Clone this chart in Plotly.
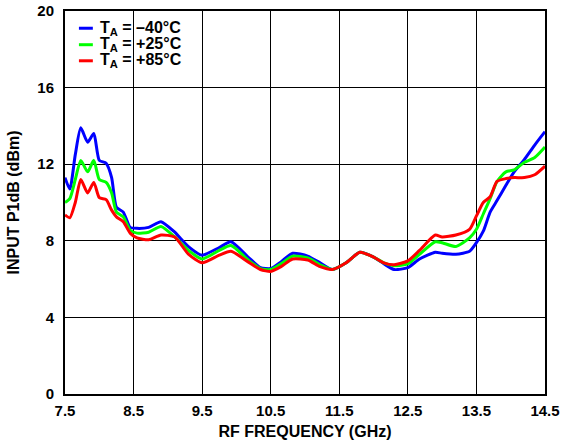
import plotly.graph_objects as go

freq = [7.5, 7.57, 7.65, 7.73, 7.83, 7.92, 8.0, 8.1, 8.18, 8.25, 8.35, 8.45, 8.55, 8.72, 8.9,
        9.1, 9.3, 9.5, 9.75, 9.92, 10.17, 10.35, 10.5, 10.65, 10.82, 11.04, 11.22, 11.4, 11.6,
        11.8, 12.0, 12.15, 12.3, 12.5, 12.67, 12.9, 13.0, 13.2, 13.4, 13.5, 13.6, 13.7, 13.8,
        13.93, 14.05, 14.2, 14.35, 14.5]

p1db_m40 = [11.3, 10.7, 12.5, 13.9, 13.15, 13.6, 12.2, 12.05, 11.3, 9.75, 9.5, 8.7, 8.65, 8.7, 9.0,
            8.45, 7.7, 7.25, 7.65, 7.95, 7.15, 6.6, 6.55, 6.9, 7.35, 7.2, 6.85, 6.5, 6.85,
            7.4, 7.15, 6.8, 6.5, 6.6, 7.05, 7.4, 7.35, 7.3, 7.45, 7.9, 8.5, 9.5, 10.1,
            10.9, 11.6, 12.25, 13.0, 13.7]

p1db_p25 = [10.0, 10.2, 11.2, 12.2, 11.6, 12.2, 11.2, 11.05, 10.5, 9.5, 9.25, 8.55, 8.4, 8.45, 8.75,
            8.2, 7.5, 7.05, 7.5, 7.75, 7.0, 6.55, 6.5, 6.8, 7.2, 7.1, 6.75, 6.5, 6.85,
            7.4, 7.15, 6.85, 6.7, 6.8, 7.3, 7.95, 7.9, 7.7, 8.15, 8.6, 9.4, 10.2, 11.1,
            11.6, 11.7, 12.1, 12.35, 12.9]

p1db_p85 = [9.35, 9.2, 10.0, 11.2, 10.5, 11.05, 10.25, 10.15, 9.6, 9.25, 9.0, 8.4, 8.15, 8.05, 8.3,
            8.2, 7.3, 6.85, 7.25, 7.45, 6.9, 6.5, 6.4, 6.65, 7.05, 7.0, 6.65, 6.5, 6.85,
            7.4, 7.15, 6.85, 6.75, 6.95, 7.5, 8.3, 8.2, 8.3, 8.6, 9.3, 10.0, 10.3, 11.1,
            11.25, 11.3, 11.3, 11.45, 11.9]

series_names = ["T<sub>A</sub> = –40°C", "T<sub>A</sub> = +25°C", "T<sub>A</sub> = +85°C"]
series_colors = ["#0000ff", "#00ff00", "#ff0000"]
series_values = [p1db_m40, p1db_p25, p1db_p85]

x_ticks = [7.5, 8.5, 9.5, 10.5, 11.5, 12.5, 13.5, 14.5]
y_ticks = [0, 4, 8, 12, 16, 20]

FONT = "Arial, 'Liberation Sans', sans-serif"

fig = go.Figure()
for name, color, vals in zip(series_names, series_colors, series_values):
    fig.add_trace(go.Scatter(x=freq, y=vals, mode="lines", name=name,
                             line=dict(color=color, width=3, shape="spline", smoothing=0.6),
                             showlegend=False))

# custom compact legend
leg_y = [0.955, 0.912, 0.870]
for name, color, yy in zip(series_names, series_colors, leg_y):
    fig.add_shape(type="line", xref="paper", yref="paper", x0=0.029, x1=0.058, y0=yy, y1=yy,
                  line=dict(color=color, width=3))
    fig.add_annotation(xref="paper", yref="paper", x=0.068, y=yy, xanchor="left", yanchor="middle",
                       text="<b>" + name + "</b>", showarrow=False,
                       font=dict(family=FONT, size=16, color="black"))

fig.update_layout(
    width=562, height=448,
    margin=dict(l=65, r=17, t=11, b=54, autoexpand=False),
    paper_bgcolor="white", plot_bgcolor="white",
    font=dict(family=FONT, size=15, color="black"),
    xaxis=dict(range=[7.5, 14.5], tickvals=x_ticks, ticktext=[f"<b>{v}</b>" for v in x_ticks],
               showgrid=True, gridcolor="black", gridwidth=1, zeroline=False,
               showline=True, linecolor="black", linewidth=2, mirror=True,
               ticks="", ticklabelstandoff=2, automargin=False,
               title=dict(text="<b>RF FREQUENCY (GHz)</b>", font=dict(size=16), standoff=8)),
    yaxis=dict(range=[0, 20], tickvals=y_ticks, ticktext=[f"<b>{v}</b>" for v in y_ticks],
               showgrid=True, gridcolor="black", gridwidth=1, zeroline=False,
               showline=True, linecolor="black", linewidth=2, mirror=True,
               ticks="", ticklabelstandoff=6, automargin=False,
               title=dict(text="<b>INPUT P1dB (dBm)</b>", font=dict(size=16), standoff=14)),
)

fig.write_html("out.html", config={"displayModeBar": False},
               post_script="document.body.style.margin='0';document.body.style.overflow='hidden';")
